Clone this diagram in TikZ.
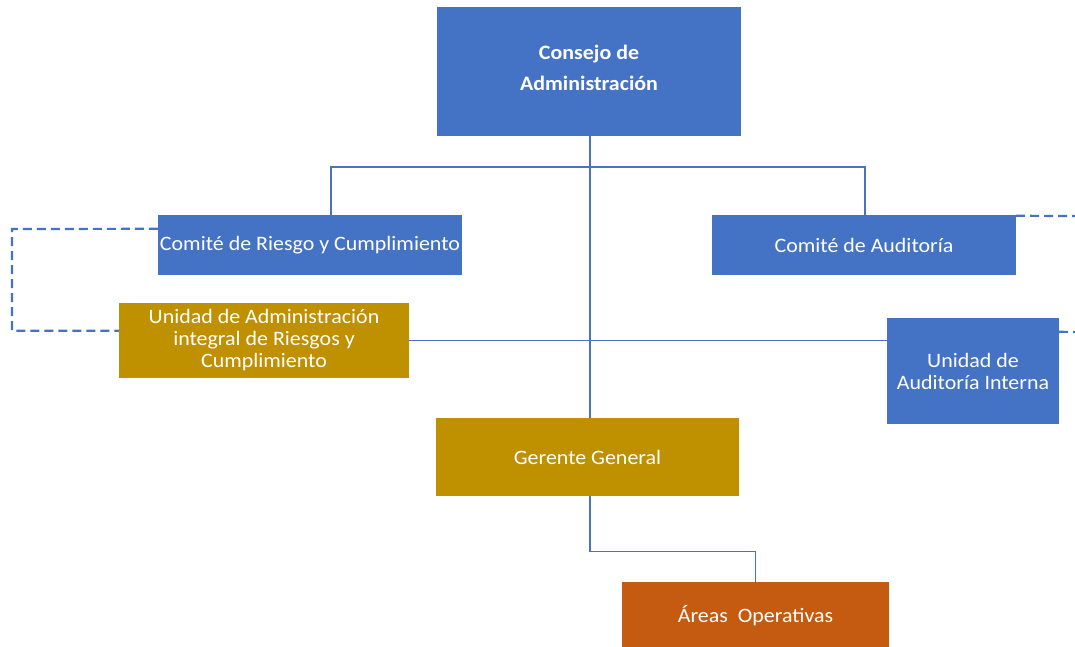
\documentclass[tikz,border=0pt]{standalone}
\usepackage{fontspec}
\setmainfont{Carlito}[FakeStretch=1.07]
\usetikzlibrary{calc}
\definecolor{cblue}{HTML}{4472C4}
\definecolor{cgold}{HTML}{BF9000}
\definecolor{corange}{HTML}{C55A11}
\definecolor{cline}{HTML}{4A72C0}
\tikzset{
  orgbox/.style={rectangle, inner sep=0pt, text=white, align=center,
    font=\fontsize{20.5}{22}\selectfont},
  bluebox/.style={orgbox, fill=cblue},
  goldbox/.style={orgbox, fill=cgold},
  orangebox/.style={orgbox, fill=corange},
  link/.style={draw=cline, line width=1.1pt},
  dashlink/.style={draw=cblue, line width=2.2pt, dash pattern=on 9pt off 5pt}
}
\begin{document}
\begin{tikzpicture}[x=1pt,y=-1pt]
\useasboundingbox (0,0) rectangle (1075,647);
\fill[white] (0,0) rectangle (1075,647);

\node[bluebox, minimum width=304pt, minimum height=129pt] (CA) at (589,71.5) {};
\node[orgbox, font=\bfseries\fontsize{20.5}{31}\selectfont] (CAtext) at ($(CA.center)+(0,-3.5)$) {Consejo de\\Administración};
\node[bluebox, minimum width=304pt, minimum height=60pt] (CR) at (310,245) {Comité de Riesgo y Cumplimiento};
\node[bluebox, minimum width=304pt, minimum height=60pt] (CAud) at (864,245) {Comité de Auditoría};
\node[goldbox, minimum width=290pt, minimum height=75pt] (UA) at (264,340.5) {Unidad de Administración\\integral de Riesgos y\\Cumplimiento};
\node[bluebox, minimum width=172pt, minimum height=106pt] (UAI) at (973,371) {Unidad de\\Auditoría Interna};
\node[goldbox, minimum width=303pt, minimum height=78pt] (GG) at (587.5,457) {Gerente General};
\node[orangebox, minimum width=267pt, minimum height=68pt] (AO) at (755.5,616) {Áreas~ Operativas};

% connectors
\coordinate (CRtop) at ($(CR.north)+(21,0)$);
\coordinate (CAtop) at ($(CAud.north)+(1,0)$);
\coordinate (bus) at (590,167);
\draw[link] (CRtop) |- (bus) -| (CAtop);
\draw[link] (CA.south -| bus) -- (GG.north -| bus);
\draw[link] (UA.east) -- (UA.east -| UAI.west);
\coordinate (GGout) at (GG.south -| bus);
\draw[link] (GGout) -- ++(0,55) -| (AO.north);

% dashed links
\coordinate (CRdash) at ($(CR.north west)+(0,14)$);
\coordinate (UAdash) at ($(UA.north west)+(0,28)$);
\draw[dashlink] (CRdash) -- (12,229) |- (UAdash);
\coordinate (edgeA) at (1078,216);
\coordinate (edgeB) at (1078,332);
\draw[dashlink] ($(CAud.north east)+(0,1)$) -- (edgeA);
\draw[dashlink] ($(UAI.north east)+(0,14)$) -- (edgeB);
\end{tikzpicture}
\end{document}
